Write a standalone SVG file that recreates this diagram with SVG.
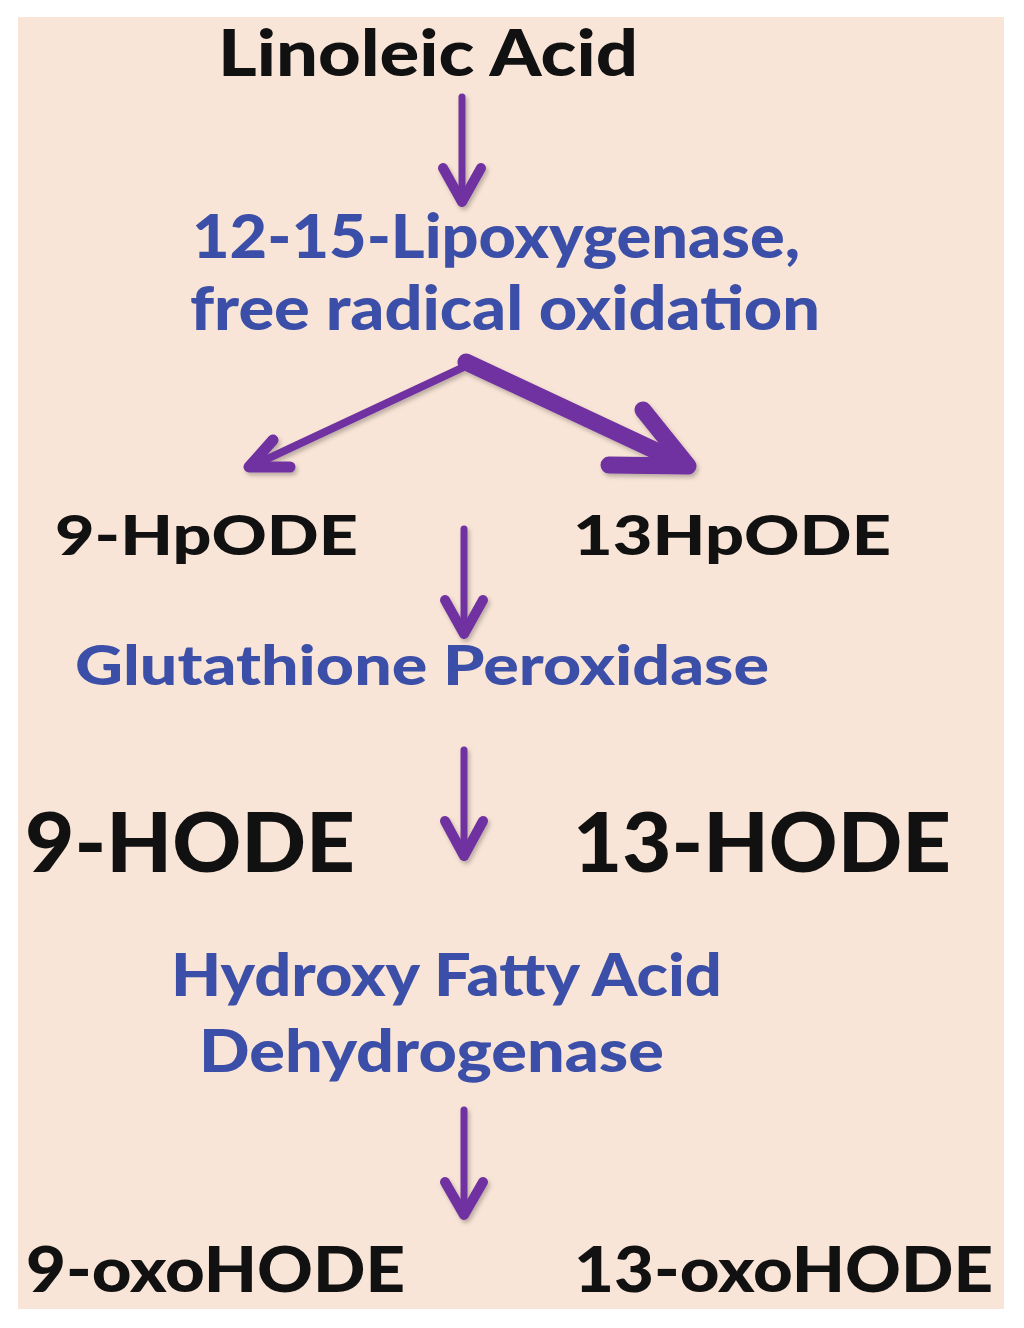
<svg xmlns="http://www.w3.org/2000/svg" width="1024" height="1328" viewBox="0 0 1024 1328">
  <defs>
    <style>
      .lbl { font-family: "Lato", "Open Sans", "Liberation Sans", sans-serif; font-weight: 900; }
      .blk { fill: #111111; }
      .blu { fill: #3C4FA8; }
      .arr { fill: none; stroke: #7030A0; stroke-linecap: round; stroke-linejoin: round; }
    </style>
    <filter id="shadow" x="-20%" y="-20%" width="140%" height="140%">
      <feDropShadow dx="2" dy="3" stdDeviation="2" flood-color="#000000" flood-opacity="0.25"/>
    </filter>
  </defs>
  <rect x="0" y="0" width="1024" height="1328" fill="#FFFFFF"/>
  <rect x="18" y="17" width="986" height="1292" fill="#F9E5D7"/>

  <g id="connectors" filter="url(#shadow)">
    <g id="arrow-linoleic">
      <line class="arr" x1="462" y1="97" x2="462" y2="200" stroke-width="7"/>
      <path class="arr" d="M443,168 L462,202 L481,168" stroke-width="10"/>
    </g>
    <g id="arrow-9hpode">
      <line class="arr" x1="466" y1="366" x2="252" y2="466" stroke-width="8"/>
      <path class="arr" d="M273,440 L249,467 L290,467" stroke-width="11"/>
    </g>
    <g id="arrow-13hpode">
      <line class="arr" x1="466" y1="362" x2="684" y2="464" stroke-width="17"/>
      <path class="arr" d="M643,410 L688,466 L609,465" stroke-width="17"/>
    </g>
    <g id="arrow-gpx">
      <line class="arr" x1="464" y1="529" x2="464" y2="632" stroke-width="7"/>
      <path class="arr" d="M445,600 L464,634 L483,600" stroke-width="10"/>
    </g>
    <g id="arrow-hode">
      <line class="arr" x1="464" y1="750" x2="464" y2="855" stroke-width="7"/>
      <path class="arr" d="M445,821 L464,856 L483,821" stroke-width="10"/>
    </g>
    <g id="arrow-oxohode">
      <line class="arr" x1="464" y1="1110" x2="464" y2="1213" stroke-width="7"/>
      <path class="arr" d="M445,1182 L464,1215 L483,1182" stroke-width="10"/>
    </g>
  </g>

  <g id="node-linoleic-acid"><text class="lbl blk" x="218" y="76" font-size="64" textLength="420" lengthAdjust="spacingAndGlyphs">Linoleic Acid</text></g>
  <g id="node-lipoxygenase">
    <text class="lbl blu" x="192" y="258" font-size="60" textLength="608" lengthAdjust="spacingAndGlyphs">12-15-Lipoxygenase,</text>
    <text class="lbl blu" x="190" y="330" font-size="60" textLength="630" lengthAdjust="spacingAndGlyphs">free radical oxidation</text>
  </g>
  <g id="node-9-hpode"><text class="lbl blk" x="55" y="555" font-size="56" textLength="303" lengthAdjust="spacingAndGlyphs">9-HpODE</text></g>
  <g id="node-13hpode"><text class="lbl blk" x="573" y="555" font-size="56" textLength="318" lengthAdjust="spacingAndGlyphs">13HpODE</text></g>
  <g id="node-glutathione-peroxidase"><text class="lbl blu" x="75" y="685" font-size="56" textLength="694" lengthAdjust="spacingAndGlyphs">Glutathione Peroxidase</text></g>
  <g id="node-9-hode"><text class="lbl blk" x="25" y="872" font-size="82" textLength="330" lengthAdjust="spacingAndGlyphs">9-HODE</text></g>
  <g id="node-13-hode"><text class="lbl blk" x="573" y="872" font-size="82" textLength="378" lengthAdjust="spacingAndGlyphs">13-HODE</text></g>
  <g id="node-hfadh">
    <text class="lbl blu" x="171" y="996" font-size="59" textLength="551" lengthAdjust="spacingAndGlyphs">Hydroxy Fatty Acid</text>
    <text class="lbl blu" x="199" y="1072" font-size="59" textLength="465" lengthAdjust="spacingAndGlyphs">Dehydrogenase</text>
  </g>
  <g id="node-9-oxohode"><text class="lbl blk" x="26" y="1292" font-size="63" textLength="379" lengthAdjust="spacingAndGlyphs">9-oxoHODE</text></g>
  <g id="node-13-oxohode"><text class="lbl blk" x="574" y="1292" font-size="63" textLength="419" lengthAdjust="spacingAndGlyphs">13-oxoHODE</text></g>
</svg>
